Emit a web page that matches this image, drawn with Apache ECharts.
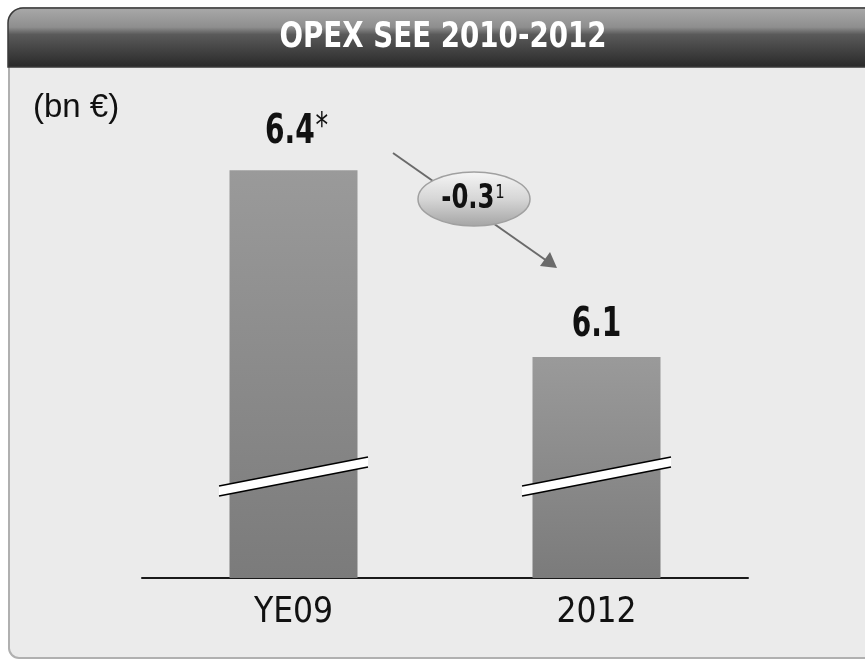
<!DOCTYPE html>
<html>
<head>
<meta charset="utf-8">
<script src="https://cdn.jsdelivr.net/npm/echarts@6/dist/echarts.min.js"></script>
<style>
  html, body { margin: 0; padding: 0; background: #fff; }
  #chart { width: 865px; height: 660px; }
</style>
</head>
<body>
<div id="chart"></div>
<script>
// data
const categories = ['YE09', '2012']
const values = [6.4, 6.1]
const valueMarks = ['*', '']
const deltaLabel = '-0.3'
const deltaMark = '1'
const breakLevel = [5.908, 5.908]   // where the axis break stripe crosses each bar

const narrow = "'Liberation Sans Narrow', 'DejaVu Sans Condensed', sans-serif"
const chart = echarts.init(document.getElementById('chart'))

const barGradient = new echarts.graphic.LinearGradient(0, 0, 0, 1, [
  { offset: 0, color: '#9a9a9a' },
  { offset: 1, color: '#7b7b7b' }
])

const option = {
  animation: false,
  backgroundColor: '#ffffff',
  grid: { left: 142, right: 117, top: 108, bottom: 82 },
  xAxis: {
    type: 'category',
    data: categories,
    axisLine: { lineStyle: { color: '#1a1a1a', width: 2 } },
    axisTick: { show: false },
    axisLabel: { color: '#111', fontSize: 35, fontFamily: narrow, margin: 17 }
  },
  yAxis: {
    type: 'value',
    min: 5.745,
    max: 6.5,
    show: false,
    splitLine: { show: false }
  },
  series: [
    {
      type: 'bar',
      barWidth: 128,
      data: values,
      itemStyle: { color: barGradient }
    },
    {
      // value labels, squeezed to look like the condensed face of the original
      type: 'custom',
      z: 6,
      data: values.map((v, i) => [i, v]),
      renderItem: (params, api) => {
        const c = api.coord([api.value(0), api.value(1)])
        const mark = valueMarks[params.dataIndex]
        return {
          type: 'text',
          x: c[0] + (mark ? 3 : 0),
          y: c[1] - (params.dataIndex === 0 ? 38 : 31),
          scaleX: 0.78,
          style: {
            text: '{v|' + api.value(1).toFixed(1) + '}' + (mark ? '{s|' + mark + '}' : ''),
            align: 'center',
            verticalAlign: 'middle',
            rich: {
              v: { fontSize: 40, fontWeight: 'bold', fill: '#111', fontFamily: narrow },
              s: { fontSize: 36, fill: '#111', fontFamily: narrow, verticalAlign: 'top', padding: [0, 0, 10, 1] }
            }
          }
        }
      }
    },
    {
      type: 'custom',
      z: 5,
      data: breakLevel.map((v, i) => [i, v]),
      renderItem: (params, api) => {
        const c = api.coord([api.value(0), api.value(1)])
        const half = 74.5, rise = 14.5, th = 5
        const x0 = c[0] - half, x1 = c[0] + half
        const y0 = c[1] + rise, y1 = c[1] - rise
        return {
          type: 'group',
          children: [
            { type: 'polygon', shape: { points: [[x0, y0 - th], [x1, y1 - th], [x1, y1 + th], [x0, y0 + th]] },
              style: { fill: '#ffffff' } },
            { type: 'line', shape: { x1: x0, y1: y0 - th, x2: x1, y2: y1 - th },
              style: { stroke: '#000', lineWidth: 1.6 } },
            { type: 'line', shape: { x1: x0, y1: y0 + th, x2: x1, y2: y1 + th },
              style: { stroke: '#000', lineWidth: 1.6 } }
          ]
        }
      }
    }
  ],
  graphic: [
    // panel body
    { type: 'rect', z: -10, shape: { x: 9, y: 8, width: 880, height: 650, r: [15, 0, 0, 10] },
      style: { fill: '#ebebeb', stroke: '#b0b0b0', lineWidth: 2 } },
    // header
    { type: 'rect', z: -9, shape: { x: 8, y: 8, width: 880, height: 59, r: [15, 0, 0, 0] },
      style: {
        fill: new echarts.graphic.LinearGradient(0, 0, 0, 1, [
          { offset: 0, color: '#aaaaaa' },
          { offset: 0.33, color: '#8e8e8e' },
          { offset: 0.45, color: '#5a5a5a' },
          { offset: 1, color: '#282828' }
        ]),
        stroke: '#3a3a3a', lineWidth: 1.5
      } },
    { type: 'text', z: 10, x: 443, y: 38, scaleX: 0.88,
      style: { text: 'OPEX SEE 2010-2012', fill: '#fff', fontSize: 35, fontWeight: 'bold',
        fontFamily: narrow, align: 'center', verticalAlign: 'middle' } },
    { type: 'text', z: 10, x: 33, y: 108,
      style: { text: '(bn €)', fill: '#111', fontSize: 33,
        fontFamily: "'Liberation Sans', Arial, sans-serif", align: 'left', verticalAlign: 'middle' } },
    // arrow
    { type: 'line', z: 20, shape: { x1: 393, y1: 153, x2: 547, y2: 261 },
      style: { stroke: '#6a6a6a', lineWidth: 2 } },
    { type: 'polygon', z: 20, shape: { points: [[557, 268], [540, 266], [550, 252]] },
      style: { fill: '#6a6a6a' } },
    // delta bubble
    { type: 'ellipse', z: 21, shape: { cx: 474, cy: 199, rx: 56, ry: 27 },
      style: {
        fill: new echarts.graphic.LinearGradient(0, 0, 0, 1, [
          { offset: 0, color: '#f6f6f6' },
          { offset: 0.5, color: '#d6d6d6' },
          { offset: 1, color: '#a4a4a4' }
        ]),
        stroke: '#a0a0a0', lineWidth: 1.5
      } },
    { type: 'text', z: 22, x: 473, y: 199, scaleX: 0.82,
      style: {
        text: '{v|' + deltaLabel + '}{s|' + deltaMark + '}',
        align: 'center', verticalAlign: 'middle',
        rich: {
          v: { fontSize: 33, fontWeight: 'bold', fill: '#111', fontFamily: narrow },
          s: { fontSize: 20, fill: '#111', fontFamily: narrow, verticalAlign: 'top', padding: [0, 0, 13, 1] }
        }
      } }
  ]
}

chart.setOption(option)
window.addEventListener('resize', () => chart.resize())
</script>
</body>
</html>
